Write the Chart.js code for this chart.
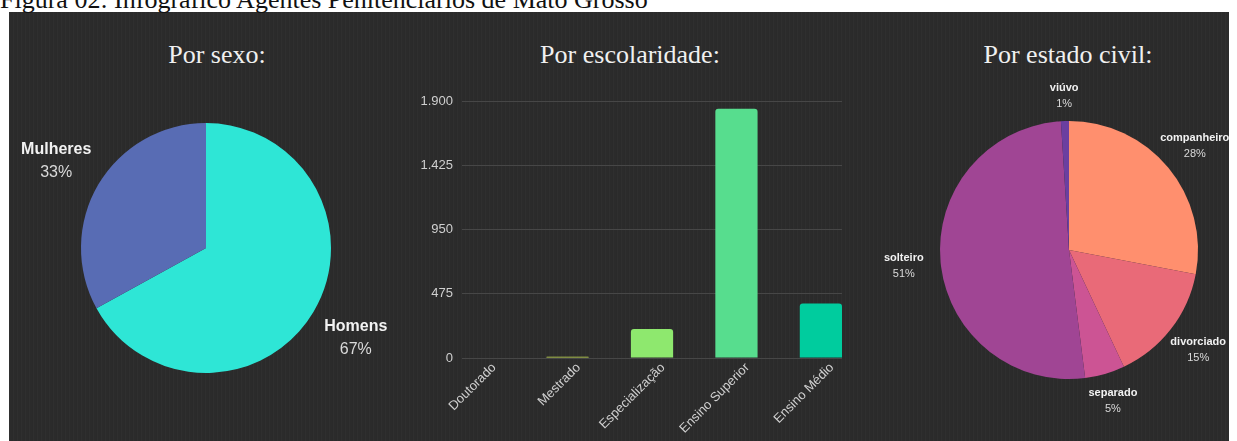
<!DOCTYPE html>
<html lang="pt-BR">
<head>
<meta charset="utf-8">
<title>Infográfico Agentes Penitenciários de Mato Grosso</title>
<script src="https://cdn.jsdelivr.net/npm/chart.js@4.4.1/dist/chart.umd.min.js"></script>
<style>
    html, body { margin: 0; padding: 0; background: #ffffff; }
    body { width: 1237px; height: 441px; position: relative; overflow: hidden; }
    .caption {
        position: absolute; left: 0; top: -13px;
        font: 26px/26px "Liberation Serif", "Times New Roman", serif;
        color: #111; white-space: nowrap; z-index: 2;
    }
    .board {
        position: absolute; left: 9px; top: 12px; width: 1220px; height: 429px;
        background-color: #2b2b2b;
        background-image: repeating-linear-gradient(90deg, rgba(255,255,255,0.018) 0 1px, rgba(0,0,0,0) 1px 3px, rgba(0,0,0,0.03) 3px 4px);
    }
    .title {
        position: absolute; top: 42px; width: 300px; text-align: center;
        font: 26px/26px "Liberation Serif", "Times New Roman", serif;
        color: #f0f0f0; white-space: nowrap;
    }
    .box { position: absolute; }
</style>
</head>
<body>
<div class="caption">Figura 02: Infográfico Agentes Penitenciários de Mato Grosso</div>
<div class="board"></div>

<div class="title" style="left:67px">Por sexo:</div>
<div class="title" style="left:480px">Por escolaridade:</div>
<div class="title" style="left:918px">Por estado civil:</div>

<div class="box" style="left:0; top:90px; width:420px; height:351px;"><canvas id="sexoPie"></canvas></div>
<div class="box" style="left:400px; top:80px; width:470px; height:361px;"><canvas id="escolaridadeBar"></canvas></div>
<div class="box" style="left:860px; top:60px; width:377px; height:381px;"><canvas id="civilPie"></canvas></div>

<script>
// --- dados ---
const sexoLabels = ['Homens', 'Mulheres'];
const sexoValues = [67, 33];
const sexoColors = ['#2ee6d6', '#586cb4'];

const eduLabels = ['Doutorado', 'Mestrado', 'Especialização', 'Ensino Superior', 'Ensino Médio'];
const eduValues = [0, 10, 215, 1843, 403];
const eduTicks = [0, 475, 950, 1425, 1900];
const eduColors = ['#f0f06a', '#d2ec5a', '#8ee86e', '#57dd8e', '#00cc9e'];

const civilLabels = ['companheiro', 'divorciado', 'separado', 'solteiro', 'viúvo'];
const civilValues = [28, 15, 5, 51, 1];
const civilColors = ['#ff8f6e', '#e96a78', '#cc5494', '#a04594', '#6b3fa0'];

const SANS = '"Liberation Sans", Arial, sans-serif';

// rótulos fora das fatias (nome em negrito + percentual)
const outsideLabels = {
    id: 'outsideLabels',
    afterDatasetsDraw(chart, args, opts) {
        const ctx = chart.ctx;
        const meta = chart.getDatasetMeta(0);
        const data = chart.data.datasets[0].data;
        const total = data.reduce((a, b) => a + b, 0);
        meta.data.forEach((arc, i) => {
            const p = arc.getProps(['x', 'y', 'startAngle', 'endAngle', 'outerRadius'], true);
            const mid = (p.startAngle + p.endAngle) / 2;
            const d = p.outerRadius + opts.offset + opts.extraX * Math.abs(Math.cos(mid));
            const x = p.x + Math.cos(mid) * d;
            const y = p.y + Math.sin(mid) * d + opts.shiftY;
            ctx.save();
            ctx.textAlign = 'center';
            ctx.textBaseline = 'middle';
            ctx.font = 'bold ' + opts.size + 'px ' + SANS;
            ctx.fillStyle = '#f2f2f2';
            ctx.fillText(chart.data.labels[i], x, y - opts.gap / 2);
            ctx.font = opts.size + 'px ' + SANS;
            ctx.fillStyle = '#dadada';
            ctx.fillText(Math.round(data[i] / total * 100) + '%', x, y + opts.gap / 2);
            ctx.restore();
        });
    }
};

function pieConfig(labels, values, colors, padding, labelOpts) {
    return {
        type: 'pie',
        data: {
            labels: labels,
            datasets: [{ data: values, backgroundColor: colors, borderWidth: 0 }]
        },
        options: {
            responsive: true, maintainAspectRatio: false, animation: false,
            layout: { padding: padding },
            plugins: {
                legend: { display: false },
                tooltip: { enabled: false },
                outsideLabels: labelOpts
            }
        },
        plugins: [outsideLabels]
    };
}

function fmtMilhar(v) {
    return String(v).replace(/\B(?=(\d{3})+(?!\d))/g, '.');
}

window.addEventListener('DOMContentLoaded', () => {
    if (typeof Chart === 'undefined') {
        console.warn('Chart.js Not Loaded.');
        return;
    }
    Chart.defaults.font.family = SANS;

    // Por sexo
    new Chart(document.getElementById('sexoPie'),
        pieConfig(sexoLabels, sexoValues, sexoColors,
            { left: 81, right: 89, top: 33, bottom: 68 },
            { offset: 49, extraX: 0, shiftY: 2, size: 16, gap: 23 }));

    // Por estado civil
    new Chart(document.getElementById('civilPie'),
        pieConfig(civilLabels, civilValues, civilColors,
            { left: 80, right: 39, top: 61, bottom: 62 },
            { offset: 25, extraX: 12, shiftY: 0, size: 11, gap: 16 }));

    // Por escolaridade
    new Chart(document.getElementById('escolaridadeBar'), {
        type: 'bar',
        data: {
            datasets: [{
                data: eduValues.map((v, i) => ({ x: i, y: v })),
                backgroundColor: eduColors,
                borderRadius: 3,
                borderSkipped: 'bottom',
                barPercentage: 0.5,
                categoryPercentage: 1
            }]
        },
        options: {
            responsive: true, maintainAspectRatio: false, animation: false,
            layout: { padding: { top: 21, right: 28, left: 0, bottom: 0 } },
            plugins: { legend: { display: false }, tooltip: { enabled: false } },
            scales: {
                x: {
                    type: 'linear', min: -0.25, max: 4.25, offset: false,
                    afterBuildTicks: (s) => { s.ticks = eduLabels.map((_, i) => ({ value: i })); },
                    afterFit: (s) => { s.height = 83; },
                    grid: { display: false, offset: false },
                    border: { display: false },
                    ticks: {
                        autoSkip: false, minRotation: 45, maxRotation: 45,
                        labelOffset: 11, padding: -6,
                        color: '#cfcfcf', font: { size: 13 },
                        callback: (v) => eduLabels[v]
                    }
                },
                y: {
                    min: 0, max: eduTicks[eduTicks.length - 1],
                    afterBuildTicks: (s) => { s.ticks = eduTicks.map(v => ({ value: v })); },
                    afterFit: (s) => { s.width = 62; },
                    grid: { color: '#474747', drawTicks: false, lineWidth: 1 },
                    border: { display: false },
                    ticks: { padding: 9, color: '#cfcfcf', font: { size: 13 }, callback: fmtMilhar }
                }
            }
        }
    });
});
</script>
</body>
</html>
